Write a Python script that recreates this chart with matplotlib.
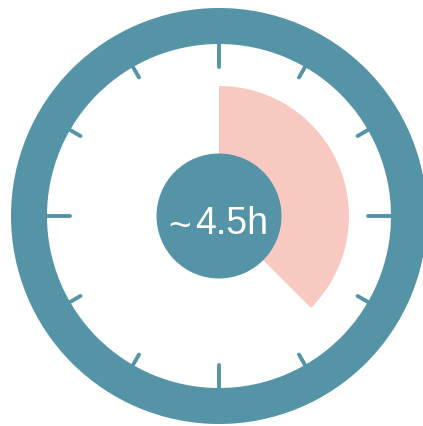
import matplotlib
matplotlib.use("Agg")
import matplotlib.pyplot as plt
from matplotlib.patches import Wedge, Circle
import numpy as np

# Clock data
hours = 4.5
clock_hours = 12
label = "~4.5h"
tick_hours = list(range(12))
major_every = 3

teal = "#5593A7"
pink = "#F7C9C0"

W, H = 423, 427
cx, cy = 219, 217
fig = plt.figure(figsize=(W / 100, H / 100), dpi=100)
ax = fig.add_axes([0, 0, 1, 1])
ax.set_xlim(-cx, W - cx)
ax.set_ylim(-(H - cy), cy)
ax.set_aspect("equal")
ax.axis("off")

r_out, r_in = 208, 172

# elapsed-time sector, clockwise from 12 o'clock
start = 90 - hours / clock_hours * 360
ax.add_patch(Wedge((0, 0), 130, start, 90, facecolor=pink, edgecolor="none", zorder=1))

# bezel
ax.add_patch(Wedge((0, 0), r_out, 0, 360, width=r_out - r_in,
                   facecolor=teal, edgecolor="none", zorder=2))

# hour ticks
for h in tick_hours:
    ang = np.deg2rad(90 - h / clock_hours * 360)
    length = 23 if h % major_every == 0 else 12
    r0, r1 = r_in - length, r_in + 2
    ax.plot([r0 * np.cos(ang), r1 * np.cos(ang)],
            [r0 * np.sin(ang), r1 * np.sin(ang)],
            color=teal, lw=2.8, solid_capstyle="round", zorder=3)

# hub with label
ax.add_patch(Circle((0, 0), 62.5, facecolor=teal, edgecolor="none", zorder=4))
tilde, value = label[0], label[1:]
font = ["Liberation Sans", "DejaVu Sans"]
ax.text(-39, -11, tilde, color="white", ha="center", va="center",
        fontsize=28, family=font, zorder=5)
ax.text(-24, -17, value, color="white", ha="left", va="baseline",
        fontsize=27, family=font, zorder=5)

fig.savefig("out.png", dpi=100)
